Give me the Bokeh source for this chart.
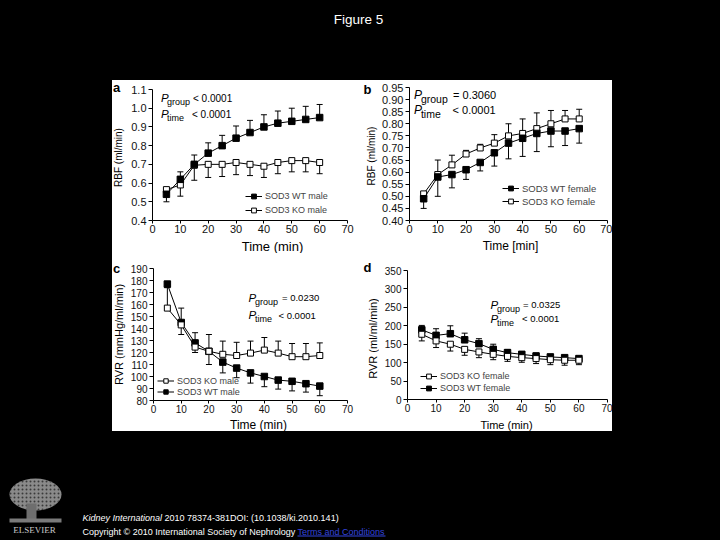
import math
from bokeh.plotting import figure
from bokeh.models import Range1d, FixedTicker, Legend, LegendItem, Spacer
from bokeh.layouts import column, row
from bokeh.core.properties import value
from bokeh.embed import file_html
from bokeh.resources import INLINE

nan = float("nan")

# ---------------- data ----------------
time_min = [5, 10, 15, 20, 25, 30, 35, 40, 45, 50, 55, 60]
x_ticks = [0, 10, 20, 30, 40, 50, 60, 70]
x_tick_labels = ["0", "10", "20", "30", "40", "50", "60", "70"]

# a: RBF males
a_wt = [0.54, 0.62, 0.70, 0.76, 0.80, 0.84, 0.87, 0.90, 0.92, 0.93, 0.94, 0.95]
a_wt_err = [nan, 0.66, 0.75, 0.815, 0.855, 0.905, 0.935, 0.965, 0.985, 1.00, 1.01, 1.02]
a_ko = [0.565, 0.59, 0.695, 0.70, 0.70, 0.71, 0.70, 0.69, 0.71, 0.72, 0.72, 0.71]
a_ko_err = [0.50, 0.53, 0.615, 0.63, 0.635, 0.645, 0.64, 0.63, 0.65, 0.66, 0.66, 0.65]
a_y_ticks = [0.4, 0.5, 0.6, 0.7, 0.8, 0.9, 1.0, 1.1]
a_y_labels = ["0.4", "0.5", "0.6", "0.7", "0.8", "0.9", "1.0", "1.1"]

# b: RBF females
b_wt = [0.49, 0.58, 0.59, 0.61, 0.64, 0.68, 0.72, 0.74, 0.76, 0.77, 0.77, 0.78]
b_wt_err = [0.45, 0.50, 0.535, 0.57, 0.605, 0.625, 0.655, 0.665, 0.685, 0.705, 0.71, 0.72]
b_ko = [0.51, 0.59, 0.63, 0.675, 0.70, 0.72, 0.75, 0.76, 0.78, 0.80, 0.82, 0.82]
b_ko_err = [nan, 0.65, 0.67, 0.69, 0.715, 0.755, 0.80, 0.82, 0.845, 0.855, 0.855, 0.86]
b_y_ticks = [0.40, 0.45, 0.50, 0.55, 0.60, 0.65, 0.70, 0.75, 0.80, 0.85, 0.90, 0.95]
b_y_labels = ["0.40", "0.45", "0.50", "0.55", "0.60", "0.65", "0.70", "0.75",
              "0.80", "0.85", "0.90", "0.95"]

# c: RVR males
c_ko = [157, 143, 124.5, 121, 118.5, 117.5, 119.5, 122, 119.5, 116.5, 116.5, 117.5]
c_ko_err = [174, 157, 136.5, 135, 129.5, 128.5, 129.5, 132.5, 129.5, 127.5, 127.5, 128]
c_wt = [177, 145, 128, 121, 112, 107, 103, 100, 97, 96, 94, 92]
c_wt_err = [nan, 135, 120, 110, 103, 99, 94.5, 91.5, 89.5, 88, 87, 84]
c_y_ticks = [80, 90, 100, 110, 120, 130, 140, 150, 160, 170, 180, 190]
c_y_labels = [str(v) for v in c_y_ticks]

# d: RVR females
d_ko = [177, 159, 150, 136, 129, 122.5, 117, 113.5, 111, 108, 106.5, 106.5]
d_ko_err = [159, 141, 131.5, 120, 113.5, 108, 103.5, 101, 97.5, 94.5, 93, 94.5]
d_wt = [189, 174, 178.5, 162, 151.5, 136, 127, 122.5, 118, 115.5, 113.5, 111]
d_wt_err = [201, 192, 200, 180, 165, 150, 136, 129, 126, 122.5, 120, 117]
d_y_ticks = [0, 50, 100, 150, 200, 250, 300, 350]
d_y_labels = [str(v) for v in d_y_ticks]

# texts
panel_letters = ["a", "b", "c", "d"]
x_titles = ["Time (min)", "Time [min]", "Time (min)", "Time (min)"]
y_titles = ["RBF (ml/min)", "RBF (ml/min)", "RVR (mmHg/ml/min)", "RVR (ml/ml/min)"]
legend_a = ["SOD3 WT male", "SOD3 KO male"]
legend_b = ["SOD3 WT female", "SOD3 KO female"]
legend_c = ["SOD3 KO male", "SOD3 WT male"]
legend_d = ["SOD3 KO female", "SOD3 WT female"]
stats_a = [("group", "< 0.0001"), ("time", "< 0.0001")]
stats_b = [("group", "= 0.3060"), ("time", "< 0.0001")]
stats_c = [("group", "= 0.0230"), ("time", "< 0.0001")]
stats_d = [("group", "= 0.0325"), ("time", "< 0.0001")]

FONT = "Liberation Sans"
COMMON = dict(output_backend="svg", toolbar_location=None, tools="")


class Panel:
    def __init__(self, ox, oy, w, h, bl, br, bt, bb, xr, yr):
        self.ox, self.oy, self.w, self.h = ox, oy, w, h
        self.bl, self.br, self.bt, self.bb = bl, br, bt, bb
        self.xr, self.yr = xr, yr
        self.l = ox + bl
        self.r = ox + w - br
        self.t = oy + bt
        self.b = oy + h - bb

    def dx(self, px):
        return self.xr[0] + (px - self.l) / (self.r - self.l) * (self.xr[1] - self.xr[0])

    def dy(self, py):
        return self.yr[1] - (py - self.t) / (self.b - self.t) * (self.yr[1] - self.yr[0])


def make_fig(g, yt, yl, tick_size):
    p = figure(width=g.w, height=g.h, x_range=Range1d(*g.xr), y_range=Range1d(*g.yr),
               min_border_left=g.bl, min_border_right=g.br,
               min_border_top=g.bt, min_border_bottom=g.bb,
               background_fill_color="white", border_fill_color="white",
               outline_line_color=None, **COMMON)
    p.xgrid.visible = False
    p.ygrid.visible = False
    p.xaxis.ticker = FixedTicker(ticks=x_ticks)
    p.xaxis.major_label_overrides = {t: s for t, s in zip(x_ticks, x_tick_labels)}
    p.yaxis.ticker = FixedTicker(ticks=yt)
    p.yaxis.major_label_overrides = {t: s for t, s in zip(yt, yl)}
    for ax in (p.xaxis, p.yaxis):
        ax.axis_line_color = "black"
        ax.axis_line_width = 1
        ax.major_tick_line_color = "black"
        ax.major_tick_in = 0
        ax.minor_tick_line_color = None
        ax.major_label_text_font = FONT
        ax.major_label_text_font_size = tick_size
        ax.major_label_text_color = "#111111"
    p.yaxis.major_tick_out = 4
    p.yaxis.major_label_standoff = 2
    p.xaxis.major_tick_out = 3
    p.xaxis.major_label_standoff = 1
    return p


class Strip:
    """white text holder; its ranges are local pixel coordinates"""

    def __init__(self, ox, oy, w, h):
        self.ox, self.oy = ox, oy
        f = figure(width=w, height=h, x_range=Range1d(0, w), y_range=Range1d(h, 0),
                   x_axis_location=None, y_axis_location=None, min_border=0,
                   background_fill_color="white", border_fill_color="white",
                   outline_line_color=None, **COMMON)
        f.xgrid.visible = False
        f.ygrid.visible = False
        self.fig = f

    def text(self, px, py, text, size, angle=0.0, style="normal", align="center"):
        self.fig.text(x=[px - self.ox], y=[py - self.oy], text=[text], angle=angle,
                      text_font=value(FONT), text_font_size=size, text_font_style=style,
                      text_align=align, text_baseline="middle", text_color="black")


def left_column(ox, oy, w, split, h, letter, ylab, ylab_x, ylab_y, ylab_size):
    """letter strip on top of the y-title strip"""
    top_s = Strip(ox, oy, w, split - oy)
    top_s.text(ox + 0.5 if ox == 112 else ox + 1, (oy + split) / 2, letter, "13px",
               style="bold", align="left")
    low_s = Strip(ox, split, w, oy + h - split)
    low_s.text(ylab_x, ylab_y, ylab, ylab_size, angle=math.pi / 2)
    return column(top_s.fig, low_s.fig, spacing=0, styles={"background-color": "white"})


def errbars(p, x, y, ends):
    p.segment(x0=x, y0=y, x1=x, y1=ends, line_color="black", line_width=1)
    p.scatter(x=x, y=ends, marker="dash", size=6, line_color="black", line_width=1)


def series(p, x, y, filled):
    ln = p.line(x, y, line_color="black", line_width=1)
    if filled:
        sc = p.scatter(x, y, marker="square", size=6.5, fill_color="black", line_color="black")
    else:
        sc = p.scatter(x, y, marker="square", size=6, fill_color="white",
                       line_color="black", line_width=1)
    return [ln, sc]


def add_legend(p, labels, rends, loc, size, h, spacing):
    items = [LegendItem(label=lab, renderers=r) for lab, r in zip(labels, rends)]
    lg = Legend(items=items, location=loc, padding=0, margin=0, spacing=spacing,
                glyph_width=17, glyph_height=h, label_height=h, label_standoff=3,
                label_text_font=FONT, label_text_font_size=size,
                background_fill_alpha=0, border_line_alpha=0)
    p.add_layout(lg)


def add_stats(p, g, stats, xP, xsub, xrest, mid1, mid2, size_p, size_sub, size_rest):
    for (sub, rest), mid, xr in zip(stats, (mid1, mid2), xrest):
        y = g.dy(mid)
        p.text(x=[g.dx(xP)], y=[y], text=["P"], text_font=value(FONT),
               text_font_style="italic", text_font_size=size_p,
               text_baseline="middle", text_align="left", text_color="black")
        p.text(x=[g.dx(xsub)], y=[g.dy(mid + 4)], text=[sub], text_font=value(FONT),
               text_font_size=size_sub, text_baseline="middle", text_align="left",
               text_color="black")
        p.text(x=[g.dx(xr)], y=[y], text=[rest],
               text_font=value(FONT), text_font_size=size_rest,
               text_baseline="middle", text_align="left", text_color="black")


# ---------------- panels (page-pixel geometry) ----------------
ga = Panel(126, 80, 236, 158, 26, 15, 9, 18, (0, 70), (0.4, 1.1))
gb = Panel(379, 80, 233, 158, 28, 5, 7, 18, (0, 70), (0.40, 0.95))
gc = Panel(126, 253, 236, 164, 27, 15, 15, 17, (0, 70), (80, 190))
gd = Panel(379, 253, 233, 164, 28, 5, 17, 18, (0, 70), (0, 350))

# a
pa = make_fig(ga, a_y_ticks, a_y_labels, "11px")
errbars(pa, time_min, a_wt, a_wt_err)
errbars(pa, time_min, a_ko, a_ko_err)
r_ko = series(pa, time_min, a_ko, False)
r_wt = series(pa, time_min, a_wt, True)
add_legend(pa, legend_a, [r_wt, r_ko], (93, 4), "9px", 12, 2)
add_stats(pa, ga, stats_a, 160.5, 166.5, (192.5, 191.5), 97.5, 113.5, "11.5px", "9px", "10px")
la = left_column(112, 80, 14, 93, 158, panel_letters[0], y_titles[0], 117.5, 157, "10px")
xa = Strip(112, 238, 250, 15)
xa.text(272, 245.5, x_titles[0], "13px")

# b
pb = make_fig(gb, b_y_ticks, b_y_labels, "11px")
errbars(pb, time_min, b_wt, b_wt_err)
errbars(pb, time_min, b_ko, b_ko_err)
r_ko = series(pb, time_min, b_ko, False)
r_wt = series(pb, time_min, b_wt, True)
add_legend(pb, legend_b, [r_wt, r_ko], (93, 13), "9.5px", 12, 1)
add_stats(pb, gb, stats_b, 411.5, 418.5, (451, 450.5), 94, 109.5, "12px", "10.5px", "11px")
lb = left_column(362, 80, 17, 98, 158, panel_letters[1], y_titles[1], 371, 155.5, "10px")
xb = Strip(362, 238, 250, 15)
xb.text(510, 245.5, x_titles[1], "12px")

# c
pc = make_fig(gc, c_y_ticks, c_y_labels, "10px")
errbars(pc, time_min, c_wt, c_wt_err)
errbars(pc, time_min, c_ko, c_ko_err)
r_wt = series(pc, time_min, c_wt, True)
r_ko = series(pc, time_min, c_ko, False)
add_legend(pc, legend_c, [r_ko, r_wt], (4, 3), "9px", 11, 0)
add_stats(pc, gc, stats_c, 248, 254.5, (281.5, 278), 297, 314.5, "11.5px", "9px", "9.5px")
lc = left_column(112, 253, 14, 283, 164, panel_letters[2], y_titles[2], 118.5, 334, "11px")
xc = Strip(112, 417, 250, 14)
xc.text(258, 424, x_titles[2], "12px")

# d
pd_ = make_fig(gd, d_y_ticks, d_y_labels, "10px")
errbars(pd_, time_min, d_wt, d_wt_err)
errbars(pd_, time_min, d_ko, d_ko_err)
r_wt = series(pd_, time_min, d_wt, True)
r_ko = series(pd_, time_min, d_ko, False)
add_legend(pd_, legend_d, [r_ko, r_wt], (13, 5), "9px", 12, 0)
add_stats(pd_, gd, stats_d, 490, 496.5, (522.5, 521.5), 304, 318, "11.5px", "9px", "9.5px")
ld = left_column(362, 253, 17, 281, 164, panel_letters[3], y_titles[3], 372, 338, "11px")
xd = Strip(362, 417, 250, 14)
xd.text(506, 424, x_titles[3], "11px")


# ---------------- page frame ----------------
def black_fig(w, h, y0, y1):
    f = figure(width=w, height=h, x_range=Range1d(0, w), y_range=Range1d(y1, y0),
               x_axis_location=None, y_axis_location=None, min_border=0,
               background_fill_color="black", border_fill_color="black",
               outline_line_color=None, **COMMON)
    f.xgrid.visible = False
    f.ygrid.visible = False
    return f


def black_text(f, x, y, text, size, color="white", style="normal", font=FONT,
               align="left"):
    f.text(x=[x], y=[y], text=[text], text_color=color, text_font=value(font),
           text_font_style=style, text_font_size=size, text_align=align,
           text_baseline="middle")


top = black_fig(720, 80, 0, 80)
black_text(top, 358, 19, "Figure 5", "13.5px", align="center")

bottom = black_fig(720, 109, 431, 540)
# Elsevier logo (approximate)
bottom.ellipse(x=[35], y=[494], width=52, height=32, fill_color="#8a8a8a", line_color=None,
               hatch_pattern="dot", hatch_color="#3a3a3a", hatch_scale=4)
bottom.rect(x=[31], y=[511], width=10, height=16, fill_color="#6e6e6e", line_color=None)
bottom.rect(x=[35], y=[520], width=52, height=4, fill_color="#7a7a7a", line_color=None)
black_text(bottom, 34, 529.5, "ELSEVIER", "9px", color="#c8c8c8",
           font="Liberation Serif", align="center")
black_text(bottom, 82, 517, "Kidney International", "9px", style="italic")
black_text(bottom, 164, 517, "2010 78374-381DOI: (10.1038/ki.2010.141)", "9px")
black_text(bottom, 82, 531, "Copyright \u00a9 2010 International Society of Nephrology", "9px")
black_text(bottom, 297, 531, "Terms and Conditions", "9px", color="#3344dd")
bottom.segment(x0=[297], y0=[535.5], x1=[385], y1=[535.5], line_color="#3344dd", line_width=1)

W = {"background-color": "white"}
panel_a = column(row(la, pa, spacing=0, styles=W), xa.fig, spacing=0, styles=W)
panel_b = column(row(lb, pb, spacing=0, styles=W), xb.fig, spacing=0, styles=W)
panel_c = column(row(lc, pc, spacing=0, styles=W), xc.fig, spacing=0, styles=W)
panel_d = column(row(ld, pd_, spacing=0, styles=W), xd.fig, spacing=0, styles=W)
grid = column(row(panel_a, panel_b, spacing=0, styles=W),
              row(panel_c, panel_d, spacing=0, styles=W),
              spacing=0, styles=W)
mid = row(Spacer(width=112, height=351, styles={"background-color": "black"}),
          grid,
          Spacer(width=108, height=351, styles={"background-color": "black"}),
          spacing=0)
layout = column(top, mid, bottom, spacing=0)

html = file_html(layout, INLINE, title="Figure 5")
html = html.replace("<head>", "<head><style>html,body{margin:0;padding:0;background:#000;"
                    "overflow:hidden;}</style>", 1)
open("out.html", "w").write(html)
